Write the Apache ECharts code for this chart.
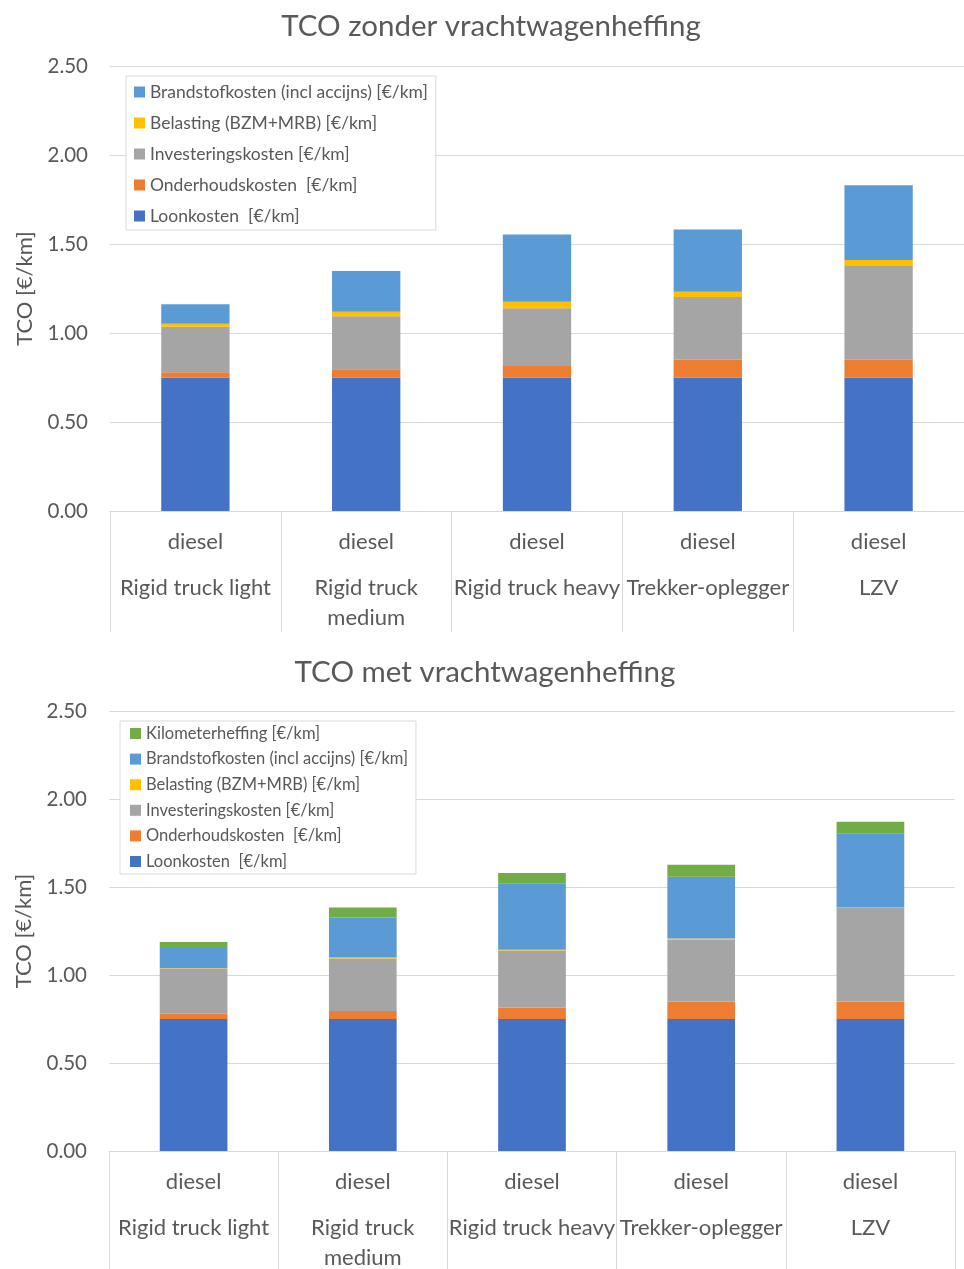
<!DOCTYPE html>
<html>
<head>
<meta charset="utf-8">
<script src="https://cdn.jsdelivr.net/npm/echarts@6/dist/echarts.min.js"></script>
<style>
  html, body { margin: 0; padding: 0; background: #fff; }
  #chart { width: 964px; height: 1269px; }
</style>
</head>
<body>
<div id="chart"></div>
<script>
// categorieën (brandstof + voertuigtype)
const brandstofType = 'diesel';
const voertuigen = ['Rigid truck light', 'Rigid truck\nmedium', 'Rigid truck heavy', 'Trekker-oplegger', 'LZV'];
const yTicks = [0, 0.5, 1, 1.5, 2, 2.5];

// TCO zonder vrachtwagenheffing [€/km]
const loonkosten = [0.75, 0.75, 0.75, 0.75, 0.75];
const onderhoudskosten = [0.03, 0.046, 0.065, 0.10, 0.10];
const investeringskosten = [0.255, 0.298, 0.324, 0.352, 0.53];
const belasting = [0.017, 0.026, 0.037, 0.030, 0.030];
const brandstofkosten = [0.11, 0.228, 0.378, 0.35, 0.42];

// TCO met vrachtwagenheffing [€/km]
const loonkostenMet = [0.75, 0.75, 0.75, 0.75, 0.75];
const onderhoudskostenMet = [0.03, 0.046, 0.065, 0.10, 0.10];
const investeringskostenMet = [0.255, 0.298, 0.324, 0.352, 0.53];
const belastingMet = [0.003, 0.005, 0.005, 0.006, 0.003];
const brandstofkostenMet = [0.115, 0.228, 0.378, 0.35, 0.42];
const kilometerheffing = [0.034, 0.056, 0.058, 0.068, 0.068];

const namen = {
    loon: 'Loonkosten  [€/km]',
    onderhoud: 'Onderhoudskosten  [€/km]',
    invest: 'Investeringskosten [€/km]',
    belasting: 'Belasting (BZM+MRB) [€/km]',
    brandstof: 'Brandstofkosten (incl accijns) [€/km]',
    km: 'Kilometerheffing [€/km]'
};
const kleuren = {
    loon: '#4472C4', onderhoud: '#ED7D31', invest: '#A5A5A5',
    belasting: '#FFC000', brandstof: '#5B9BD5', km: '#70AD47'
};

const FONT = 'Lato';
const GRIJS = '#595959';
const LIJN = '#d9d9d9';

function xAs(gridIndex) {
    return {
        type: 'category',
        gridIndex: gridIndex,
        data: voertuigen,
        axisLine: { show: true, lineStyle: { color: LIJN, width: 1 } },
        axisTick: { show: true, interval: 0, length: 121, lineStyle: { color: LIJN } },
        axisLabel: {
            interval: 0,
            margin: 0,
            formatter: function (v) {
                const regels = v.split('\n').map(r => '{b|' + r + '}').join('\n');
                return '{a|' + brandstofType + '}\n' + regels;
            },
            rich: {
                a: { fontFamily: FONT, fontSize: 22, color: GRIJS, lineHeight: 62 },
                b: { fontFamily: FONT, fontSize: 22, color: GRIJS, lineHeight: 30 }
            }
        }
    };
}

function yAs(gridIndex) {
    return {
        type: 'value',
        gridIndex: gridIndex,
        min: 0,
        max: yTicks[yTicks.length - 1],
        interval: yTicks[1] - yTicks[0],
        name: 'TCO [€/km]',
        nameLocation: 'middle',
        nameGap: 74,
        nameTextStyle: { fontFamily: FONT, fontSize: 22, color: GRIJS },
        axisLine: { show: false },
        axisTick: { show: false },
        axisLabel: {
            fontFamily: FONT, fontSize: 20.5, color: GRIJS, margin: 22,
            formatter: v => v.toFixed(2)
        },
        splitLine: { lineStyle: { color: LIJN, width: 1 } }
    };
}

function serie(key, data, idx, stack) {
    return {
        name: namen[key],
        type: 'bar',
        stack: stack,
        xAxisIndex: idx,
        yAxisIndex: idx,
        barWidth: '40%',
        itemStyle: { color: kleuren[key] },
        data: data
    };
}

const chart = echarts.init(document.getElementById('chart'));
const option = {
    animation: false,
    textStyle: { fontFamily: FONT },
    title: [
        { text: 'TCO zonder vrachtwagenheffing', left: 486, textAlign: 'center', top: 6,
          textStyle: { fontFamily: FONT, fontSize: 29.5, fontWeight: 'normal', color: GRIJS } },
        { text: 'TCO met vrachtwagenheffing', left: 480, textAlign: 'center', top: 652,
          textStyle: { fontFamily: FONT, fontSize: 29.5, fontWeight: 'normal', color: GRIJS } }
    ],
    legend: [
        {
            orient: 'vertical', left: 126, top: 76,
            padding: [7, 8, 5, 8],
            backgroundColor: '#fff', borderColor: LIJN, borderWidth: 1,
            itemWidth: 11, itemHeight: 11, itemGap: 13,
            icon: 'rect',
            textStyle: { fontFamily: FONT, fontSize: 17.5, color: GRIJS, lineHeight: 18 },
            data: [namen.brandstof, namen.belasting, namen.invest, namen.onderhoud, namen.loon]
        },
        {
            orient: 'vertical', left: 120, top: 721,
            padding: [4, 8, 4, 10],
            backgroundColor: '#fff', borderColor: LIJN, borderWidth: 1,
            itemWidth: 11, itemHeight: 11, itemGap: 8.6,
            icon: 'rect',
            textStyle: { fontFamily: FONT, fontSize: 16.5, color: GRIJS, lineHeight: 16 },
            data: [namen.km, namen.brandstof, namen.belasting, namen.invest, namen.onderhoud, namen.loon]
        }
    ],
    grid: [
        { left: 110, top: 66, width: 856, height: 445 },
        { left: 109, top: 711, width: 846, height: 440 }
    ],
    xAxis: [xAs(0), xAs(1)],
    yAxis: [yAs(0), yAs(1)],
    series: [
        serie('loon', loonkosten, 0, 'zonder'),
        serie('onderhoud', onderhoudskosten, 0, 'zonder'),
        serie('invest', investeringskosten, 0, 'zonder'),
        serie('belasting', belasting, 0, 'zonder'),
        serie('brandstof', brandstofkosten, 0, 'zonder'),

        serie('loon', loonkostenMet, 1, 'met'),
        serie('onderhoud', onderhoudskostenMet, 1, 'met'),
        serie('invest', investeringskostenMet, 1, 'met'),
        serie('belasting', belastingMet, 1, 'met'),
        serie('brandstof', brandstofkostenMet, 1, 'met'),
        serie('km', kilometerheffing, 1, 'met')
    ]
};
chart.setOption(option);
</script>
</body>
</html>
